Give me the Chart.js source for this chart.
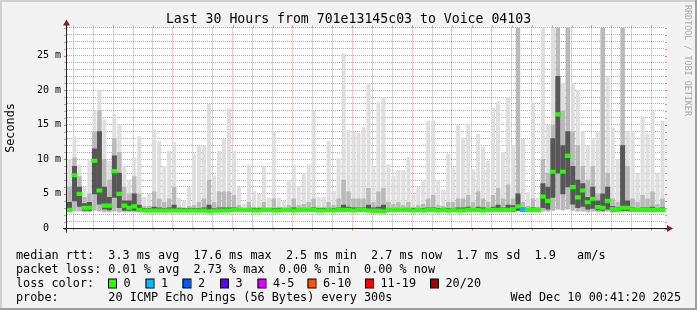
<!DOCTYPE html>
<html>
<head>
<meta charset="utf-8">
<title>Last 30 Hours from 701e13145c03 to Voice 04103</title>
<script src="https://cdn.jsdelivr.net/npm/chart.js@4.4.1/dist/chart.umd.min.js"></script>
<style>
  html, body { margin: 0; padding: 0; background: #f2f2f2; }
  canvas { display: block; }
</style>
</head>
<body>
<canvas id="rttChart" width="697" height="310"></canvas>
<script>
// time axis: hours from Tue 00:00, one column every 15 min
var startHour = -5.3111;   // Mon 18:41:20
var endHour = 24.6889;     // Wed 00:41:20
var stepHours = 0.25;

// smoke (ms), 120 columns
var rttMax = [
  10.0, 13.3, 9.2, 6.0, 10.0, 17.0, 20.0, 15.7, 9.7, 16.5, 15.0, 9.0,
  7.0, 10.2, 13.3, 4.5, 5.0, 14.3, 12.6, 9.0, 11.2, 12.4, 4.4, 4.0,
  6.0, 10.7, 11.9, 12.0, 18.0, 7.6, 11.2, 12.9, 17.3, 11.2, 6.0, 3.5,
  9.2, 5.4, 5.0, 9.0, 4.4, 14.0, 4.4, 4.0, 7.0, 9.2, 6.1, 8.0,
  9.2, 17.0, 4.5, 4.5, 12.6, 5.4, 10.1, 25.2, 14.2, 14.0, 13.8, 14.6,
  21.0, 9.0, 18.2, 18.9, 9.2, 7.6, 8.4, 8.4, 10.2, 4.9, 5.9, 7.0,
  15.5, 15.5, 7.0, 5.6, 10.8, 8.8, 15.0, 13.1, 15.1, 8.5, 13.6, 11.7,
  9.7, 17.4, 18.3, 11.0, 19.0, 12.0, 30.0, 12.9, 5.2, 18.2, 4.4, 30.0,
  15.0, 30.0, 30.0, 21.0, 30.0, 21.0, 20.0, 14.0, 12.0, 13.0, 14.0, 30.0,
  22.0, 14.5, 10.0, 30.0, 14.0, 14.0, 8.0, 16.2, 13.6, 17.0, 8.0, 15.5
];
var rttP90 = [
  6.0, 10.2, 7.5, 4.5, 5.0, 14.0, 17.0, 10.0, 7.0, 13.0, 11.0, 6.0,
  5.0, 7.5, 5.0, 3.2, 3.2, 5.3, 4.3, 3.8, 4.3, 6.0, 3.1, 3.0,
  3.2, 3.3, 3.8, 4.3, 7.0, 3.8, 5.3, 5.3, 5.3, 4.8, 3.3, 2.9,
  3.8, 3.1, 3.1, 3.8, 3.0, 4.3, 3.1, 3.0, 3.3, 4.3, 3.3, 3.5,
  3.8, 4.3, 3.1, 3.1, 3.8, 3.3, 4.3, 7.0, 5.3, 4.3, 4.3, 4.3,
  5.8, 3.8, 5.3, 5.8, 3.8, 3.5, 3.8, 3.3, 3.8, 3.1, 3.3, 3.5,
  4.3, 4.8, 3.3, 3.2, 3.8, 3.8, 4.3, 4.3, 4.8, 3.8, 5.3, 4.3,
  3.8, 4.8, 5.8, 4.3, 6.3, 4.3, 30.0, 3.8, 3.2, 4.3, 3.1, 10.0,
  8.0, 15.0, 30.0, 17.0, 30.0, 14.0, 12.0, 9.0, 7.0, 9.0, 5.0, 30.0,
  8.0, 4.3, 3.8, 30.0, 9.0, 4.3, 3.8, 4.8, 4.3, 5.3, 3.5, 4.3
];
var rttP75 = [
  3.8, 9.0, 6.0, 3.6, 3.8, 11.5, 14.0, 6.0, 4.5, 10.5, 8.0, 4.0,
  4.0, 5.0, 3.4, 2.9, 2.9, 3.1, 3.0, 2.9, 3.0, 3.4, 2.9, 2.9,
  2.9, 2.9, 2.9, 3.0, 3.4, 2.9, 3.0, 3.0, 3.0, 3.0, 2.9, 2.8,
  2.9, 2.9, 2.9, 2.9, 2.9, 2.9, 2.9, 2.9, 2.9, 3.0, 2.9, 2.9,
  2.9, 3.0, 2.9, 2.9, 2.9, 2.9, 3.0, 3.4, 3.1, 3.0, 3.0, 3.0,
  3.4, 3.0, 3.1, 3.4, 2.9, 2.9, 2.9, 2.9, 2.9, 2.9, 2.9, 2.9,
  3.0, 3.0, 2.9, 2.9, 2.9, 2.9, 3.0, 3.0, 3.1, 2.9, 3.1, 3.0,
  2.9, 3.1, 3.4, 3.0, 3.4, 3.3, 5.0, 3.0, 2.9, 3.0, 2.9, 6.5,
  6.0, 13.0, 22.0, 12.0, 14.0, 9.0, 7.0, 6.5, 4.5, 6.0, 4.0, 5.0,
  6.0, 3.2, 3.0, 12.0, 4.0, 3.0, 2.9, 3.0, 3.0, 3.1, 2.9, 3.0
];
var rttMedian = [
  2.7, 7.7, 5.0, 3.0, 3.0, 9.8, 5.5, 3.3, 3.3, 8.3, 5.0, 3.3,
  3.0, 3.2, 2.7, 2.6, 2.6, 2.6, 2.6, 2.6, 2.6, 2.6, 2.6, 2.6,
  2.6, 2.6, 2.6, 2.6, 2.5, 2.6, 2.6, 2.6, 2.6, 2.7, 2.7, 2.7,
  2.7, 2.6, 2.6, 2.7, 2.7, 2.6, 2.6, 2.7, 2.7, 2.6, 2.7, 2.7,
  2.7, 2.7, 2.6, 2.6, 2.7, 2.6, 2.7, 2.7, 2.7, 2.6, 2.7, 2.7,
  2.6, 2.6, 2.6, 2.5, 2.7, 2.7, 2.7, 2.7, 2.7, 2.6, 2.7, 2.6,
  2.7, 2.7, 2.6, 2.7, 2.6, 2.7, 2.6, 2.6, 2.7, 2.7, 2.7, 2.6,
  2.7, 2.7, 2.7, 2.7, 2.7, 2.8, 3.2, 2.7, 2.7, 2.7, 2.7, 4.6,
  4.0, 8.2, 16.5, 8.2, 10.5, 6.0, 4.5, 5.5, 3.8, 4.3, 3.1, 3.0,
  4.0, 2.8, 2.7, 3.0, 3.0, 2.7, 2.7, 2.7, 2.7, 2.7, 2.7, 2.7
];
var rttP25 = [
  2.5, 4.0, 3.2, 2.6, 2.6, 5.0, 3.5, 2.8, 2.7, 4.5, 3.0, 2.6,
  2.6, 2.6, 2.5, 2.5, 2.5, 2.5, 2.5, 2.5, 2.5, 2.5, 2.5, 2.5,
  2.5, 2.5, 2.5, 2.5, 2.4, 2.5, 2.5, 2.5, 2.5, 2.5, 2.5, 2.5,
  2.5, 2.5, 2.5, 2.5, 2.5, 2.5, 2.5, 2.5, 2.5, 2.5, 2.5, 2.5,
  2.5, 2.5, 2.5, 2.5, 2.5, 2.5, 2.5, 2.5, 2.5, 2.5, 2.5, 2.5,
  2.5, 2.4, 2.4, 2.3, 2.5, 2.5, 2.5, 2.5, 2.5, 2.5, 2.5, 2.5,
  2.5, 2.5, 2.5, 2.5, 2.5, 2.5, 2.5, 2.5, 2.5, 2.5, 2.5, 2.5,
  2.5, 2.5, 2.5, 2.5, 2.5, 2.5, 2.6, 2.5, 2.5, 2.5, 2.5, 3.0,
  2.8, 4.5, 8.0, 5.0, 6.0, 3.5, 3.0, 3.2, 2.8, 2.9, 2.7, 2.6,
  2.8, 2.5, 2.5, 2.6, 2.6, 2.5, 2.5, 2.5, 2.5, 2.5, 2.5, 2.5
];
var rttMin = [
  2.4, 2.5, 2.5, 2.4, 2.4, 2.6, 2.5, 2.4, 2.4, 2.5, 2.4, 2.4,
  2.4, 2.4, 2.4, 2.4, 2.4, 2.4, 2.4, 2.4, 2.4, 2.4, 2.4, 2.4,
  2.4, 2.4, 2.4, 2.4, 2.3, 2.4, 2.4, 2.4, 2.4, 2.4, 2.4, 2.4,
  2.4, 2.4, 2.4, 2.4, 2.4, 2.4, 2.4, 2.4, 2.4, 2.4, 2.4, 2.4,
  2.4, 2.4, 2.4, 2.4, 2.4, 2.4, 2.4, 2.4, 2.4, 2.4, 2.4, 2.4,
  2.4, 2.3, 2.3, 2.2, 2.4, 2.4, 2.4, 2.4, 2.4, 2.4, 2.4, 2.4,
  2.4, 2.4, 2.4, 2.4, 2.4, 2.4, 2.4, 2.4, 2.4, 2.4, 2.4, 2.4,
  2.4, 2.4, 2.4, 2.4, 2.4, 2.4, 2.5, 2.4, 2.4, 2.4, 2.4, 2.5,
  2.5, 2.6, 2.8, 2.7, 2.8, 2.6, 2.5, 2.5, 2.4, 2.5, 2.4, 2.4,
  2.5, 2.4, 2.4, 2.4, 2.4, 2.4, 2.4, 2.4, 2.4, 2.4, 2.4, 2.4
];
// lost pings per column (out of 20)
var lossCount = [
  0, 0, 0, 0, 0, 0, 0, 0, 0, 0, 0, 0,
  0, 0, 0, 0, 0, 0, 0, 0, 0, 0, 0, 0,
  0, 0, 0, 0, 0, 0, 0, 0, 0, 0, 0, 0,
  0, 0, 0, 0, 0, 0, 0, 0, 0, 0, 0, 0,
  0, 0, 0, 0, 0, 0, 0, 0, 0, 0, 0, 0,
  0, 0, 0, 0, 0, 0, 0, 0, 0, 0, 0, 0,
  0, 0, 0, 0, 0, 0, 0, 0, 0, 0, 0, 0,
  0, 0, 0, 0, 0, 0, 0, 1, 0, 0, 0, 0,
  0, 0, 0, 0, 0, 0, 0, 0, 0, 0, 0, 0,
  0, 0, 0, 0, 0, 0, 0, 0, 0, 0, 0, 0
];

var xTickHours = [0, 6, 12, 18, 24];
var xTickLabels = ['Tue 00:00', 'Tue 06:00', 'Tue 12:00', 'Tue 18:00', 'Wed 00:00'];
var yTickValues = [0, 5, 10, 15, 20, 25];
var yTickLabels = ['0  ', '5 m', '10 m', '15 m', '20 m', '25 m'];

var lossLabels = ['0', '1', '2', '3', '4-5', '6-10', '11-19', '20/20'];
var lossLimits = [0, 1, 2, 3, 5, 10, 19, 20];
var lossColors = ['#26ff00', '#00b8ff', '#0059ff', '#5e00ff', '#dd00ff', '#ff5500', '#ff0000', '#a10000'];

var legendRows = [
  'median rtt:  3.3 ms avg  17.6 ms max  2.5 ms min  2.7 ms now  1.7 ms sd  1.9   am/s',
  'packet loss: 0.01 % avg  2.73 % max  0.00 % min  0.00 % now',
  'loss color:',
  'probe:       20 ICMP Echo Pings (56 Bytes) every 300s'
];
var stampText = 'Wed Dec 10 00:41:20 2025';
var titleText = 'Last 30 Hours from 701e13145c03 to Voice 04103';

var MONO = '"DejaVu Sans Mono", "Liberation Mono", monospace';
var gridMinor = 'rgba(143,143,143,0.75)';
var gridMajor = 'rgba(222,79,79,0.6)';

function xAt(i) { return startHour + (i + 0.5) * stepHours; }
function band(lo, hi) {
  return hi.map(function(h, i) { return { x: xAt(i), y: [lo[i], h] }; });
}
function lossBucket(n) {
  for (var k = 0; k < lossLimits.length; k++) if (n <= lossLimits[k]) return k;
  return lossLimits.length - 1;
}

var medianHalf = 0.25;
var medianBoxes = rttMedian.map(function(m, i) { return { x: xAt(i), y: [m - medianHalf, m + medianHalf] }; });

var decor = {
  id: 'decor',
  beforeDraw: function(chart) {
    var c = chart.ctx, a = chart.chartArea;
    c.save();
    c.fillStyle = '#f2f2f2';
    c.fillRect(0, 0, chart.width, chart.height);
    c.fillStyle = '#ffffff';
    c.fillRect(a.left, a.top, a.right - a.left, a.bottom - a.top);
    c.restore();
  },
  afterDraw: function(chart) {
    var c = chart.ctx, a = chart.chartArea;
    var xs = chart.scales.x, ys = chart.scales.y;
    var W = chart.width, H = chart.height;
    c.save();

    // ticks on the plot edges
    c.lineWidth = 1;
    xs.ticks.forEach(function(t) {
      var px = Math.round(xs.getPixelForValue(t.value)) + 0.5;
      c.strokeStyle = (t.value % 3 === 0) ? 'rgba(222,79,79,0.8)' : gridMinor;
      c.beginPath();
      c.moveTo(px, a.top - 2); c.lineTo(px, a.top);
      c.moveTo(px, a.bottom); c.lineTo(px, a.bottom + 2);
      c.stroke();
    });
    ys.ticks.forEach(function(t) {
      var py = Math.round(ys.getPixelForValue(t.value)) + 0.5;
      c.strokeStyle = (t.value % 5 === 0) ? 'rgba(222,79,79,0.8)' : gridMinor;
      c.beginPath();
      c.moveTo(a.left - 3, py); c.lineTo(a.left, py);
      c.moveTo(a.right, py); c.lineTo(a.right + 2, py);
      c.stroke();
    });

    // axes + arrows
    var x0 = a.left - 0.5, y0 = a.bottom;
    c.strokeStyle = '#1f1f1f';
    c.beginPath();
    c.moveTo(a.left - 4, y0); c.lineTo(a.right + 4, y0);
    c.moveTo(x0, a.bottom + 4); c.lineTo(x0, a.top - 4);
    c.stroke();
    c.fillStyle = '#801f1f';
    c.beginPath();
    c.moveTo(a.right + 2, y0 - 3.5); c.lineTo(a.right + 2, y0 + 3.5); c.lineTo(a.right + 8, y0); c.closePath();
    c.fill();
    c.beginPath();
    c.moveTo(x0 - 3.5, a.top - 2); c.lineTo(x0 + 3.5, a.top - 2); c.lineTo(x0, a.top - 8); c.closePath();
    c.fill();

    // title
    c.fillStyle = '#000';
    c.textBaseline = 'middle';
    c.textAlign = 'center';
    c.font = '13.2px ' + MONO;
    c.fillText(titleText, W / 2, 19.5);

    // unit label
    c.font = '11.8px ' + MONO;
    c.save();
    c.translate(11, (a.top + a.bottom) / 2);
    c.rotate(-Math.PI / 2);
    c.fillText('Seconds', 0, 0);
    c.restore();

    // watermark
    c.save();
    c.fillStyle = '#a8a8a8';
    c.font = '8.4px ' + MONO;
    c.textAlign = 'left';
    c.translate(687, 5);
    c.rotate(Math.PI / 2);
    c.fillText('RRDTOOL / TOBI OETIKER', 0, 0);
    c.restore();

    // legend block
    var rowY = [255.5, 269.5, 283.5, 297.5];
    c.textAlign = 'left';
    c.font = '11.8px ' + MONO;
    legendRows.forEach(function(s, r) { c.fillText(s, 16, rowY[r]); });
    var swX = [108, 145.5, 182.5, 220, 257.5, 307.5, 365, 430];
    lossLabels.forEach(function(lbl, k) {
      c.fillStyle = lossColors[k];
      c.fillRect(swX[k], rowY[2] - 4.5, 8, 9);
      c.strokeStyle = '#000';
      c.strokeRect(swX[k] + 0.5, rowY[2] - 4.5, 8, 9);
      c.fillStyle = '#000';
      c.fillText(lbl, swX[k] + 15.5, rowY[2]);
    });
    c.textAlign = 'right';
    c.fillText(stampText, 681, rowY[3]);

    // frame shading
    c.fillStyle = '#cfcfcf';
    c.fillRect(0, 0, W, 2);
    c.fillRect(0, 0, 2, H);
    c.fillStyle = '#9e9e9e';
    c.fillRect(0, H - 2, W, 2);
    c.fillRect(W - 2, 0, 2, H);
    c.restore();
  }
};

function barSet(label, order, data, color, thickness) {
  return { type: 'bar', label: label, order: order, data: data, backgroundColor: color,
           grouped: false, barThickness: thickness, borderWidth: 0 };
}

new Chart(document.getElementById('rttChart').getContext('2d'), {
  type: 'bar',
  data: {
    datasets: [
      barSet('median', 0, medianBoxes, function(ctx) {
        return lossColors[lossBucket(lossCount[ctx.dataIndex] || 0)];
      }, 5.2),
      barSet('p25-p75', 1, band(rttP25, rttP75), '#575757', 4.4),
      barSet('p10-p90', 2, band(rttMin, rttP90), '#b9b9b9', 3.8),
      barSet('min-max', 3, band(rttMin, rttMax), '#dedede', 3.4)
    ]
  },
  options: {
    responsive: false,
    animation: false,
    devicePixelRatio: 1,
    events: [],
    layout: { padding: { left: 0, top: 27.5, right: 32, bottom: 81.5 } },
    plugins: { legend: { display: false }, tooltip: { enabled: false }, title: { display: false } },
    scales: {
      x: {
        type: 'linear', offset: false, min: startHour, max: endHour, z: 1,
        afterBuildTicks: function(s) {
          var t = [];
          for (var h = Math.ceil(startHour); h <= endHour; h++) t.push({ value: h });
          s.ticks = t;
        },
        afterFit: function(s) { s.height = 0; },
        grid: { offset: false, drawTicks: false, lineWidth: 1,
          color: function(ctx) { return ctx.tick && ctx.tick.value % 3 === 0 ? gridMajor : gridMinor; } },
        border: { display: false, dash: [1, 1] },
        ticks: { autoSkip: false, maxRotation: 0, padding: 4, color: '#000',
          font: { family: MONO, size: 10 },
          callback: function(v) { var k = xTickHours.indexOf(v); return k < 0 ? '' : xTickLabels[k]; } }
      },
      y: {
        type: 'linear', min: 0, max: 29.05, z: 1,
        afterBuildTicks: function(s) {
          var t = [];
          for (var v = 0; v <= 29; v++) t.push({ value: v });
          s.ticks = t;
        },
        afterFit: function(s) { s.width = 67; },
        grid: { drawTicks: false, lineWidth: 1,
          color: function(ctx) { return ctx.tick && ctx.tick.value % 5 === 0 ? gridMajor : gridMinor; } },
        border: { display: false, dash: [1, 1] },
        ticks: { autoSkip: false, padding: 6, color: '#000',
          font: { family: MONO, size: 10 },
          callback: function(v) { var k = yTickValues.indexOf(v); return k < 0 ? '' : yTickLabels[k]; } }
      }
    }
  },
  plugins: [decor]
});
</script>
</body>
</html>
